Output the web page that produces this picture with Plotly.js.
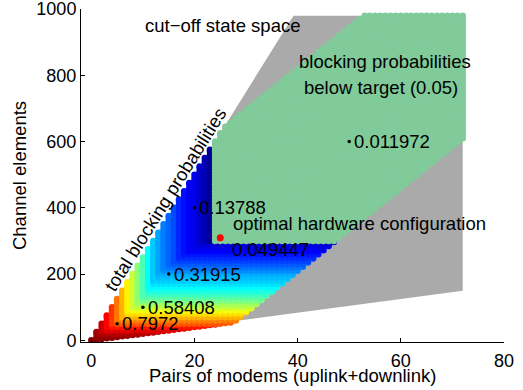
<!DOCTYPE html>
<html><head><meta charset="utf-8">
<script src="https://cdn.plot.ly/plotly-3.0.1.min.js"></script>
<style>html,body{margin:0;padding:0;background:#fff}#chart{width:523px;height:390px}</style>
</head><body><div id="chart"></div>
<script>
// ---- data ----
const modemPairs = [0,1,2,3,4,5,6,7,8,9,10,11,12,13,14,15,16,17,18,19,20,21,22,23,24,25,26,27,28,29,30,31,32,33,34,35,36,37,38,39,40,41,42,43,44,45,46,47,48,49,50,51,52,53,54,55,56,57,58,59,60,61,62,63,64,65,66,67,68,69,70,71,72];
const channelMin = [0,2,4,6,8,10,12,14,16,18,20,22,24,26,28,30,32,34,36,38,40,42,44,46,48,50,52,54,60,72,85,97,110,122,135,147,160,172,185,197,210,222,235,247,260,272,285,297,310,322,335,347,360,372,385,397,410,422,435,447,460,472,485,497,510,522,535,547,560,572,585,597,610];
const channelMax = [0,25,50,75,100,125,150,175,200,225,250,275,300,325,350,375,400,425,450,475,500,525,550,575,600,625,645,657,670,682,695,707,720,732,745,757,770,782,795,807,820,832,845,857,870,882,895,907,920,932,945,957,970,980,980,980,980,980,980,980,980,980,980,980,980,980,980,980,980,980,980,980,980];
const channelStep = 10;
// blocking when modems are the bottleneck (per modem-pair count 0..24; larger counts stay below target)
const modemBlocking = [1.0,0.97,0.93,0.88,0.83,0.77,0.71,0.65,0.59,0.53,0.47,0.40,0.348,0.312,0.276,0.252,0.228,0.192,0.168,0.145,0.138,0.107,0.083,0.059,0.045];
// blocking when channel elements are the bottleneck
const channelLevels = [0,10,20,30,40,50,60,70,80,90,100,110,120,130,140,150,160,170,180,190,200,210,220,230,240,250,260,270,280,290,300];
const channelBlocking = [1.0,0.98,0.95,0.91,0.86,0.80,0.76,0.71,0.67,0.625,0.584,0.55,0.51,0.48,0.45,0.42,0.395,0.37,0.35,0.335,0.319,0.29,0.265,0.24,0.215,0.195,0.175,0.155,0.135,0.12,0.045];
const blockingTarget = 0.05;
const cutoffModems = [0,39.2,72,72,0];
const cutoffChannels = [0,980,980,150,0];
const labelModems = [5,10,15,20,50];
const labelChannels = [50,100,200,400,600];
const labelTexts = ['0.7972','0.58408','0.31915','0.13788','0.011972'];
const optimalModems = [25];
const optimalChannels = [310];
const optimalText = '0.049447';
const xTickValues = [0,20,40,60,80];
const yTickValues = [0,200,400,600,800,1000];

// ---- build the dot field ----
const cx=[],cy=[],cv=[],gx=[],gy=[];
function levelIndex(ch){let k=0;for(let j=0;j<channelLevels.length;j++){if(channelLevels[j]<=ch)k=j;}return k;}
modemPairs.forEach((m,i)=>{
  const cs=[channelMin[i]];
  for(let c=Math.floor(channelMin[i]/channelStep)*channelStep+channelStep;c<channelMax[i];c+=channelStep)cs.push(c);
  if(channelMax[i]>channelMin[i])cs.push(channelMax[i]);
  const bm = modemBlocking[Math.min(i,modemBlocking.length-1)];
  cs.forEach(ch=>{
    const b=Math.max(bm,channelBlocking[levelIndex(ch)]);
    if(b<blockingTarget){gx.push(m);gy.push(ch);}else{cx.push(m);cy.push(ch);cv.push(b);}
  });
});

const FONT='Liberation Sans, Arial, Helvetica, sans-serif';
const jet=[[0,'rgb(0,0,143)'],[0.111,'rgb(0,0,255)'],[0.365,'rgb(0,255,255)'],[0.619,'rgb(255,255,0)'],[0.873,'rgb(255,0,0)'],[1,'rgb(128,0,0)']];

const traces=[
 {type:'scatter',x:cutoffModems,y:cutoffChannels,mode:'lines',fill:'toself',fillcolor:'rgb(170,170,170)',line:{width:0,color:'rgba(0,0,0,0)'},hoverinfo:'skip',showlegend:false},
 {type:'scatter',x:cx,y:cy,mode:'markers',marker:{size:6.5,color:cv,colorscale:jet,cmin:0.05,cmax:1,line:{width:0}},showlegend:false},
 {type:'scatter',x:gx,y:gy,mode:'markers',marker:{size:6.5,color:'rgb(128,203,153)',line:{width:0}},showlegend:false},
 {type:'scatter',x:labelModems,y:labelChannels,mode:'markers',marker:{size:3.5,color:'black'},showlegend:false},
 {type:'scatter',x:optimalModems,y:optimalChannels,mode:'markers',marker:{size:7,color:'rgb(255,0,0)'},showlegend:false}
];

const ann=[];
labelModems.forEach((m,i)=>ann.push({x:m,y:labelChannels[i],text:labelTexts[i],xanchor:'left',yanchor:'middle',xshift:3,showarrow:false,font:{size:18.5}}));
ann.push({x:26.8,y:273,text:optimalText,xanchor:'left',yanchor:'middle',showarrow:false,font:{size:18.5}});
ann.push({x:27,y:352,text:'optimal hardware configuration',xanchor:'left',yanchor:'middle',showarrow:false,font:{size:18.5}});
ann.push({x:25.4,y:950,text:'cut\u2212off state space',xanchor:'center',yanchor:'middle',showarrow:false,font:{size:18.5}});
ann.push({x:56.9,y:841,text:'blocking probabilities',xanchor:'center',yanchor:'middle',showarrow:false,font:{size:18.5}});
ann.push({x:56.2,y:762,text:'below target (0.05)',xanchor:'center',yanchor:'middle',showarrow:false,font:{size:18.5}});
ann.push({x:14.4,y:424,text:'total blocking probabilities',textangle:-58,xanchor:'center',yanchor:'middle',showarrow:false,font:{size:18.5}});
// x-axis title, placed just under the tick labels as in the reference
ann.push({xref:'paper',yref:'paper',x:0.5,y:-0.1,text:'Pairs of modems (uplink+downlink)',xanchor:'center',yanchor:'middle',showarrow:false,font:{size:18.5}});

const axisCommon={showline:true,linecolor:'black',linewidth:1,ticks:'inside',ticklen:4,tickwidth:1,tickcolor:'black',showgrid:false,zeroline:false,tickfont:{size:18,color:'black'},mirror:false,ticklabeloverflow:'allow'};
const layout={
 width:523,height:390,margin:{l:81,r:19,t:9,b:48},
 paper_bgcolor:'white',plot_bgcolor:'white',
 font:{family:FONT,color:'black'},
 showlegend:false,hovermode:false,
 xaxis:Object.assign({},axisCommon,{range:[-2,80],tickvals:xTickValues,ticklabelstandoff:2}),
 yaxis:Object.assign({},axisCommon,{range:[-5,1000],tickvals:yTickValues,title:{text:'Channel elements',font:{size:18.5},standoff:4}}),
 annotations:ann
};
Plotly.newPlot('chart',traces,layout,{staticPlot:true,displayModeBar:false});
</script></body></html>
